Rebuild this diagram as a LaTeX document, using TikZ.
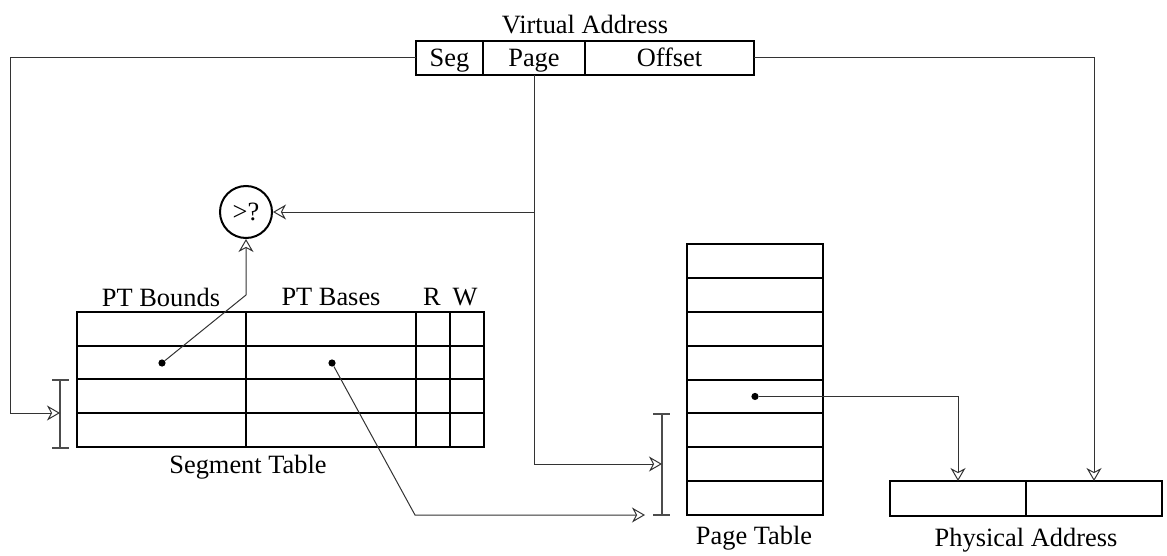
\documentclass[tikz,border=0pt]{standalone}
\usepackage{fontspec}
\setmainfont{Liberation Serif}
\usetikzlibrary{arrows.meta,positioning}

\tikzset{
  cell/.style={draw, line width=1pt, minimum height=17pt, inner sep=0pt, outer sep=0pt, text height=10.5pt, text depth=1.5pt, font=\fontsize{13.2}{15}\selectfont},
  lbl/.style={inner sep=0pt, font=\fontsize{13.2}{15}\selectfont},
  link/.style={line width=0.5pt, black!80},
  linkarr/.style={link, -{Stealth[open, length=6.5pt, width=7.5pt, inset=2pt]}},
  dot/.style={circle, fill, inner sep=0pt, minimum size=3.6pt},
  brace/.style={line width=0.6pt, black!70},
}

\begin{document}
\begin{tikzpicture}[x=0.5pt, y=-0.5pt]
    \useasboundingbox (0,0) rectangle (1167,556);

    % virtual address
    \node[cell, minimum width=33.5pt, anchor=north west] (seg) at (416,41) {Seg};
    \node[cell, minimum width=51pt, anchor=west] (page) at (seg.east) {Page};
    \node[cell, minimum width=84.5pt, anchor=west] (offset) at (page.east) {Offset};
    \node[lbl] (vaddr) at (585,25) {Virtual Address};

    % segment table
    \draw[line width=1pt] (77,312) rectangle (484,447);
    \foreach \y in {346,379,413} \draw[line width=1pt] (77,\y) -- (484,\y);
    \foreach \x in {246,416,450} \draw[line width=1pt] (\x,312) -- (\x,447);
    \node[lbl] (hbnd) at (161,297) {PT Bounds};
    \node[lbl] (hbas) at (331,297) {PT Bases};
    \node[lbl] (hr) at (432,297) {R};
    \node[lbl] (hw) at (465,297) {W};
    \node[lbl] (segtab) at (248,467) {Segment Table};
    \node[dot] (bnd) at (162,363) {};
    \node[dot] (bas) at (332,363) {};
    \draw[brace] (60,380) -- (60,448) (52,380) -- (69,380) (52,448) -- (69,448);
    \coordinate (segin) at (60,413);

    % bounds check
    \node[draw, circle, line width=1pt, minimum size=26pt, inner sep=0pt, font=\fontsize{13.2}{15}\selectfont] (cmp) at (246,212) {>?};
    \coordinate (bend) at (246,295);

    % page table
    \foreach \i in {0,...,7}
        \node[cell, minimum width=68pt, minimum height=16.94pt, anchor=north west] (pt\i) at (687,{244+\i*33.875}) {};
    \node[lbl] (pagetab) at (754,538) {Page Table};
    \node[dot] (ptd) at (pt4.center) {};
    \draw[brace] (662,414) -- (662,515) (653,414) -- (670,414) (653,515) -- (670,515);
    \coordinate (ptin) at (662,464);
    \coordinate (ptbot) at (645,515);
    \coordinate (basbend) at (415,515);

    % physical address
    \node[cell, minimum width=68pt, minimum height=17.5pt, anchor=north west] (physl) at (890,481) {};
    \node[cell, minimum width=68pt, minimum height=17.5pt, anchor=west] (physr) at (physl.east) {};
    \node[lbl] (paddr) at (1026,540) {Physical Address};

    % connectors
    \draw[linkarr] (seg.west) -| (10,413) -- (segin);
    \draw[linkarr] (page.south) |- (ptin);
    \draw[linkarr] (page.south |- cmp.east) -- (cmp.east);
    \draw[linkarr] (bnd) -- (bend) -- (cmp.south);
    \draw[linkarr] (bas) -- (basbend) -- (ptbot);
    \draw[linkarr] (ptd) -| (physl.north);
    \draw[linkarr] (offset.east) -| (physr.north);
\end{tikzpicture}
\end{document}
